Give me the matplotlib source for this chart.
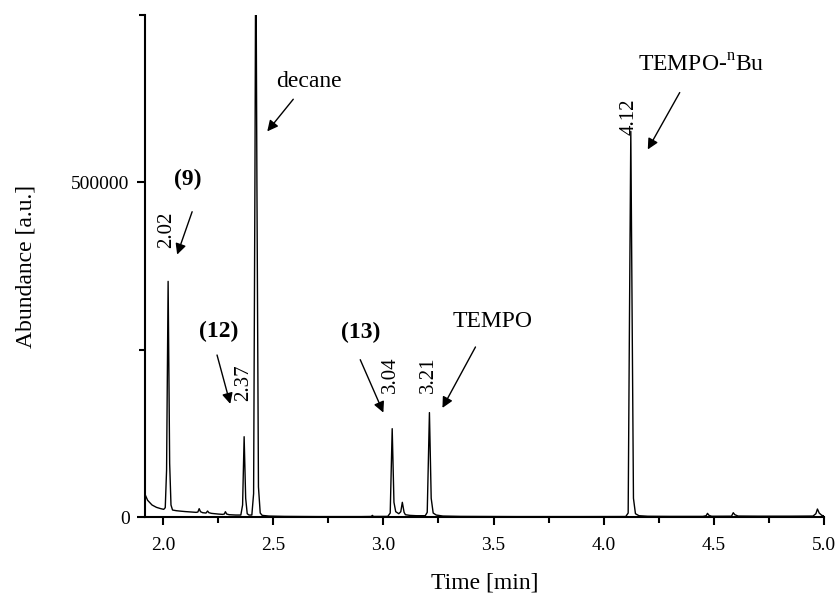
import matplotlib
matplotlib.use("Agg")
import matplotlib.pyplot as plt
from matplotlib.ticker import MultipleLocator

plt.rcParams['font.family'] = ['Liberation Serif', 'DejaVu Serif']
plt.rcParams['mathtext.fontset'] = 'custom'
plt.rcParams['mathtext.rm'] = 'Liberation Serif'

# chromatogram trace (time in min, abundance in a.u.)
time = [1.918, 1.93, 1.95, 1.97, 1.99, 2.003, 2.010, 2.016, 2.023, 2.030, 2.036, 2.043,
        2.06, 2.08, 2.10, 2.13, 2.15, 2.158, 2.164, 2.170, 2.18, 2.195, 2.202, 2.208,
        2.22, 2.25, 2.27, 2.278, 2.283, 2.289, 2.30, 2.33, 2.353, 2.361, 2.368, 2.375,
        2.382, 2.39, 2.403, 2.411, 2.417, 2.421, 2.426, 2.433, 2.441, 2.45, 2.48, 2.55,
        2.7, 2.9, 2.945, 2.95, 2.955, 3.02, 3.031, 3.040, 3.048, 3.056, 3.07, 3.079,
        3.086, 3.094, 3.10, 3.12, 3.15, 3.19, 3.199, 3.209, 3.217, 3.226, 3.24, 3.27,
        3.35, 3.6, 3.9, 4.1, 4.111, 4.117, 4.123, 4.129, 4.135, 4.144, 4.16, 4.2,
        4.3, 4.45, 4.465, 4.471, 4.478, 4.49, 4.58, 4.588, 4.595, 4.61, 4.7, 4.85,
        4.95, 4.963, 4.970, 4.978, 4.99, 5.0]
abundance = [34000, 25000, 18000, 14500, 12500, 11500, 14000, 70000, 352000, 80000, 18000, 10500,
             9500, 8800, 8200, 7500, 7000, 7500, 12500, 8000, 6500, 6000, 9000, 6500,
             5500, 4500, 4000, 4500, 8000, 4500, 3500, 3000, 3000, 18000, 120000, 28000,
             5000, 3000, 3000, 35000, 500000, 900000, 500000, 45000, 6000, 2500, 1500, 1000,
             700, 700, 900, 2500, 900, 1000, 6000, 132000, 22000, 8000, 5000, 8000,
             22000, 7000, 3500, 2500, 2000, 2000, 7000, 156000, 28000, 6000, 3000, 1500,
             1000, 700, 700, 800, 6000, 300000, 576000, 300000, 28000, 5000, 2000, 1200,
             1000, 1000, 2000, 5500, 2500, 1200, 1300, 6500, 3500, 1500, 1300, 1300,
             1500, 5000, 12000, 6000, 2500, 1800]

# retention time labels (text, x, y)
rt_labels = ["2.02", "2.37", "3.04", "3.21", "4.12"]
rt_x = [2.018, 2.364, 3.032, 3.205, 4.114]
rt_y = [429000, 200000, 212000, 212000, 598000]

# compound labels with arrows: text, bold?, text pos, arrow start, arrow tip
names = ["(9)", "(12)", "(13)", "decane", "TEMPO", "TEMPO-$^{\\mathrm{n}}$Bu"]
bold = [True, True, True, False, False, False]
name_x = [2.114, 2.2545, 2.895, 2.664, 3.495, 4.441]
name_y = [504000, 277000, 275000, 650000, 292000, 674000]
arr_x0 = [2.132, 2.245, 2.895, 2.591, 3.418, 4.345]
arr_y0 = [456000, 242000, 235000, 624000, 254000, 634000]
arr_x1 = [2.064, 2.305, 3.000, 2.473, 3.268, 4.200]
arr_y1 = [392000, 169000, 156000, 576000, 163000, 549000]

fig = plt.figure(figsize=(8.4, 5.95), dpi=100)
ax = fig.add_axes([0.1726, 0.131, 0.8084, 0.844])

ax.plot(time, abundance, color='black', lw=1.0)

for t, x, y in zip(rt_labels, rt_x, rt_y):
    ax.text(x, y, t, rotation=90, ha='center', va='center', fontsize=15)

for i in range(len(names)):
    ax.text(name_x[i], name_y[i], names[i], ha='center', va='center', fontsize=17,
            fontweight='bold' if bold[i] else 'normal')
    ax.annotate("", xy=(arr_x1[i], arr_y1[i]), xytext=(arr_x0[i], arr_y0[i]),
                arrowprops=dict(arrowstyle='-|>', color='black', lw=1.0,
                                mutation_scale=16, shrinkA=0, shrinkB=0))

ax.set_xlim(1.918, 5.0)
ax.set_ylim(0, 750000)
ax.set_xticks([2.0, 2.5, 3.0, 3.5, 4.0, 4.5, 5.0])
ax.xaxis.set_minor_locator(MultipleLocator(0.25))
ax.set_yticks([0, 500000])
ax.set_yticklabels(["0", "500000"])
ax.yaxis.set_minor_locator(MultipleLocator(250000))
ax.tick_params(which='major', direction='out', length=6, width=1.5, labelsize=14)
ax.tick_params(which='minor', direction='out', length=4, width=1.5)
ax.tick_params(axis='x', which='major', pad=8.5)
ax.tick_params(axis='y', which='major', pad=5)

for s in ['top', 'right']:
    ax.spines[s].set_visible(False)
for s in ['left', 'bottom']:
    ax.spines[s].set_linewidth(1.5)

ax.set_xlabel("Time [min]", fontsize=17, labelpad=13)
ax.set_ylabel("Abundance [a.u.]", fontsize=17, labelpad=25)

fig.savefig("out.png", dpi=100)
